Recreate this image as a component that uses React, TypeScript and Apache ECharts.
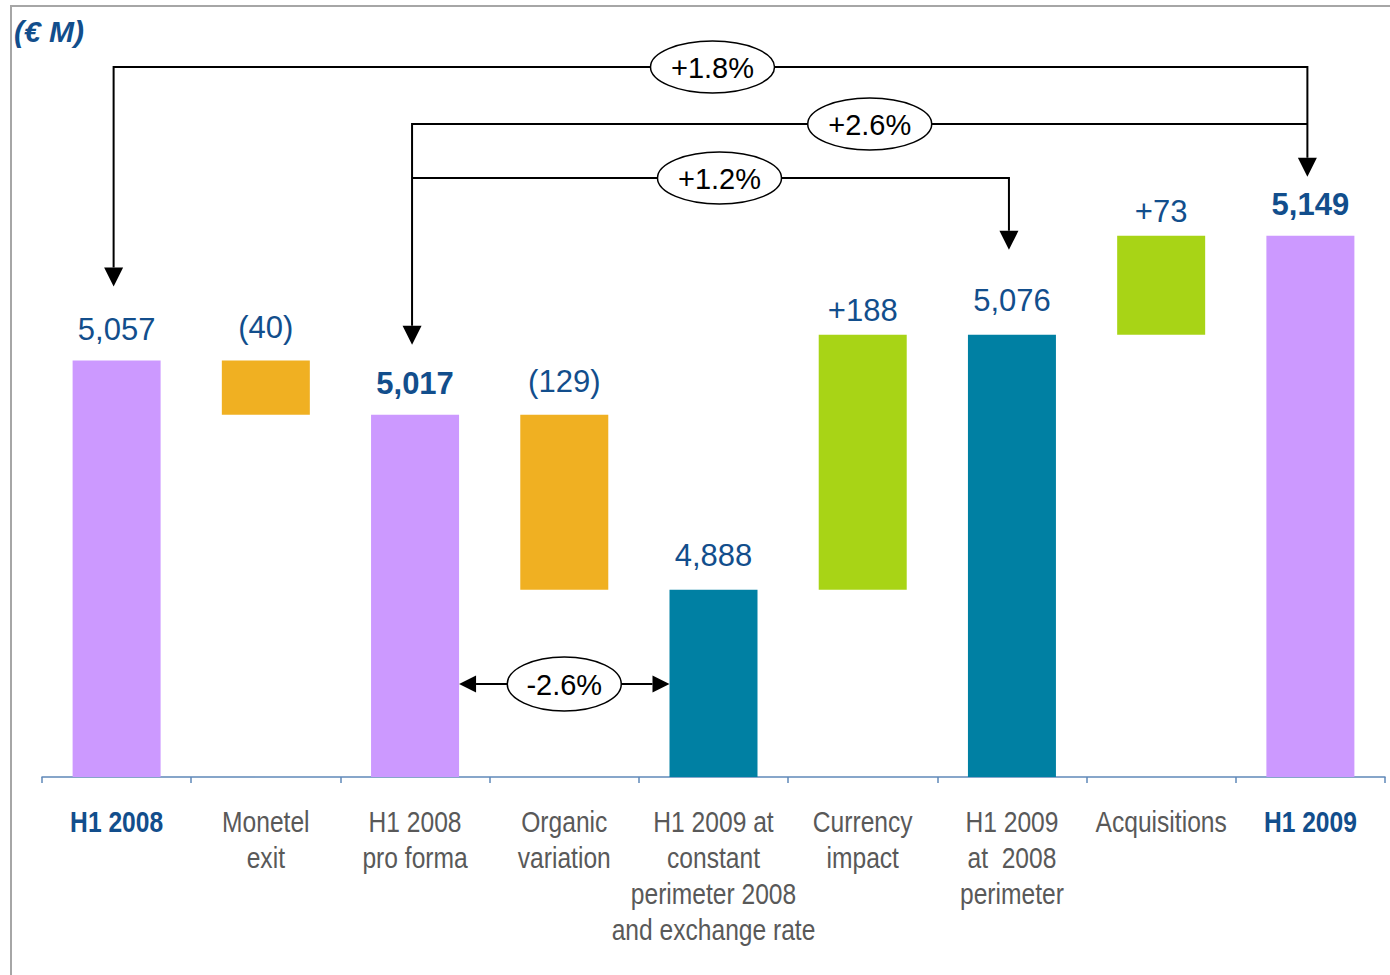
import React, { useEffect, useRef } from 'react';
import * as echarts from 'echarts';

// ---- Revenue bridge, H1 2008 -> H1 2009 (EUR millions) ----
const categories = [
  'H1 2008',
  'Monetel\nexit',
  'H1 2008\npro forma',
  'Organic\nvariation',
  'H1 2009 at\nconstant\nperimeter 2008\nand exchange rate',
  'Currency\nimpact',
  'H1 2009\nat  2008\nperimeter',
  'Acquisitions',
  'H1 2009',
];
// 'reported' and 'comparable' are totals drawn from the axis; 'change' floats on the running total
const stepKinds = ['reported', 'change', 'reported', 'change', 'comparable', 'change', 'comparable', 'change', 'reported'];
const stepValues = [5057, -40, 5017, -129, 4888, 188, 5076, 73, 5149];
const headlineCategories = [0, 8];
const boldValueLabels = [2, 8];

// growth brackets between two totals (the percentage is computed from the values)
const growthLinks = [
  { from: 0, to: 8 },
  { from: 2, to: 8 },
  { from: 2, to: 6 },
];
const dipLink = { from: 2, to: 4 };

const Y_MIN = 4750;
const Y_MAX = 5300;

const COLORS = {
  reported: '#CC99FF',
  comparable: '#0080A3',
  down: '#F0B022',
  up: '#A8D416',
  value: '#124E8C',
  category: '#595959',
  axis: '#5F88B8',
  frame: '#A6A6A6',
};
const BAR_WIDTH = 88;
const SANS = "'Liberation Sans', Arial, sans-serif";
// category captions use a condensed rendering of the sans face
const CAPTION_SCALE_X = 0.82;

function fmtTotal(v: number) {
  return v.toLocaleString('en-US');
}

function buildSeriesData() {
  const base: number[] = [];
  const bars: any[] = [];
  let running = 0;
  stepValues.forEach((v, i) => {
    const kind = stepKinds[i];
    if (kind !== 'change') {
      running = v;
      base.push(0);
      bars.push({
        value: v,
        itemStyle: { color: kind === 'reported' ? COLORS.reported : COLORS.comparable },
        label: {
          formatter: fmtTotal(v),
          distance: kind === 'reported' ? 16 : 19,
          fontWeight: boldValueLabels.includes(i) ? 'bold' : 'normal',
        },
      });
    } else {
      const low = v < 0 ? running + v : running;
      base.push(low);
      bars.push({
        value: Math.abs(v),
        itemStyle: { color: v < 0 ? COLORS.down : COLORS.up },
        label: {
          formatter: v < 0 ? `(${Math.abs(v)})` : `+${v}`,
          distance: v < 0 ? 18 : 9,
        },
      });
      running += v;
    }
  });
  return { base, bars };
}

function pct(from: number, to: number) {
  const p = (stepValues[to] / stepValues[from] - 1) * 100;
  return (p >= 0 ? '+' : '') + p.toFixed(1) + '%';
}

export default function App() {
  const ref = useRef<HTMLDivElement>(null);

  useEffect(() => {
    if (!ref.current) return;
    const chart = echarts.init(ref.current, undefined, { renderer: 'svg' });
    const { base, bars } = buildSeriesData();

    chart.setOption({
      animation: false,
      grid: { left: 42, right: 5, top: 31, bottom: 198, containLabel: false },
      xAxis: {
        type: 'category',
        data: categories,
        axisLine: { lineStyle: { color: COLORS.axis, width: 1.5 } },
        axisTick: { show: true, length: 6, lineStyle: { color: COLORS.axis, width: 1.5 } },
        axisLabel: { show: false },
      },
      yAxis: {
        type: 'value',
        min: Y_MIN,
        max: Y_MAX,
        show: false,
        splitLine: { show: false },
      },
      series: [
        {
          type: 'bar',
          stack: 'bridge',
          data: base,
          barWidth: BAR_WIDTH,
          clip: true,
          silent: true,
          itemStyle: { color: 'rgba(0,0,0,0)' },
          emphasis: { disabled: true },
        },
        {
          type: 'bar',
          stack: 'bridge',
          data: bars,
          barWidth: BAR_WIDTH,
          clip: true,
          emphasis: { disabled: true },
          label: {
            show: true,
            position: 'top',
            color: COLORS.value,
            fontSize: 31,
            fontFamily: SANS,
          },
        },
      ],
    });

    // annotation layer: positions come from the chart's own scales
    const pt = (i: number, v: number) =>
      chart.convertToPixel({ gridIndex: 0 }, [i, v]) as number[];
    const colX = (i: number) => pt(i, Y_MIN)[0] - 3;
    const topY = (i: number) => pt(i, stepValues[i])[1];
    const axisY = pt(0, Y_MIN)[1];

    const line = { stroke: '#000', lineWidth: 2, fill: null };
    const HEAD = 19;
    const downHead = (x: number, tip: number) => ({
      type: 'polygon',
      z: 20,
      shape: { points: [[x, tip], [x - 9.5, tip - HEAD], [x + 9.5, tip - HEAD]] },
      style: { fill: '#000' },
    });
    const badge = (cx: number, cy: number, text: string, rx: number, ry: number) => [
      {
        type: 'ellipse',
        z: 21,
        shape: { cx, cy, rx, ry },
        style: { fill: '#fff', stroke: '#000', lineWidth: 1.5 },
      },
      {
        type: 'text',
        z: 22,
        x: cx,
        y: cy + 1,
        style: {
          text,
          align: 'center',
          verticalAlign: 'middle',
          fontSize: 29,
          fontFamily: SANS,
          fill: '#000',
        },
      },
    ];

    const levels = [67, 124, 178];
    const fromGaps = [74, 70, null];
    const toGaps = [59, null, 85];
    const badgeShift = [2, 10, 9];
    const graphics: any[] = [];

    growthLinks.forEach((lk, k) => {
      const x1 = colX(lk.from);
      const x2 = colX(lk.to);
      const y = levels[k];
      const pts: number[][] = [];
      const fg = fromGaps[k];
      const tg = toGaps[k];
      if (fg != null) {
        const tip = topY(lk.from) - fg;
        pts.push([x1, tip - HEAD]);
        graphics.push(downHead(x1, tip));
      }
      pts.push([x1, y], [x2, y]);
      if (tg != null) {
        const tip = topY(lk.to) - tg;
        pts.push([x2, tip - HEAD]);
        graphics.push(downHead(x2, tip));
      }
      graphics.push({ type: 'polyline', z: 19, shape: { points: pts }, style: line });
      graphics.push(...badge((x1 + x2) / 2 + badgeShift[k], y, pct(lk.from, lk.to), 62, 26));
    });

    // horizontal double arrow between the pro-forma and constant-perimeter bars
    {
      const xa = pt(dipLink.from, Y_MIN)[0] + BAR_WIDTH / 2;
      const xb = pt(dipLink.to, Y_MIN)[0] - BAR_WIDTH / 2;
      const y = 684;
      const L = 17;
      graphics.push({
        type: 'line',
        z: 19,
        shape: { x1: xa + L, y1: y, x2: xb - L, y2: y },
        style: line,
      });
      graphics.push({
        type: 'polygon',
        z: 20,
        shape: { points: [[xa, y], [xa + L, y - 8.5], [xa + L, y + 8.5]] },
        style: { fill: '#000' },
      });
      graphics.push({
        type: 'polygon',
        z: 20,
        shape: { points: [[xb, y], [xb - L, y - 8.5], [xb - L, y + 8.5]] },
        style: { fill: '#000' },
      });
      graphics.push(...badge((xa + xb) / 2, y, pct(dipLink.from, dipLink.to), 57, 27));
    }

    // category captions under the axis, condensed
    categories.forEach((c, i) => {
      const headline = headlineCategories.includes(i);
      graphics.push({
        type: 'text',
        z: 6,
        x: pt(i, Y_MIN)[0],
        y: axisY + 27,
        scaleX: CAPTION_SCALE_X,
        style: {
          text: c,
          align: 'center',
          verticalAlign: 'top',
          fontSize: 30,
          lineHeight: 36,
          fontFamily: SANS,
          fontWeight: headline ? 'bold' : 'normal',
          fill: headline ? COLORS.value : COLORS.category,
        },
      });
    });

    // slide frame and unit caption
    graphics.push(
      { type: 'line', z: 5, shape: { x1: 10, y1: 6, x2: 1390, y2: 6 }, style: { stroke: COLORS.frame, lineWidth: 2 } },
      { type: 'line', z: 5, shape: { x1: 11, y1: 6, x2: 11, y2: 975 }, style: { stroke: COLORS.frame, lineWidth: 2 } },
      {
        type: 'text',
        z: 5,
        x: 14,
        y: 31,
        style: {
          text: '(€ M)',
          verticalAlign: 'middle',
          fontSize: 30,
          fontWeight: 'bold',
          fontStyle: 'italic',
          fontFamily: SANS,
          fill: COLORS.value,
        },
      }
    );

    chart.setOption({ graphic: graphics });

    return () => chart.dispose();
  }, []);

  return (
    <div
      ref={ref}
      style={{ position: 'absolute', left: 0, top: 0, width: 1390, height: 975, background: '#fff' }}
    />
  );
}
